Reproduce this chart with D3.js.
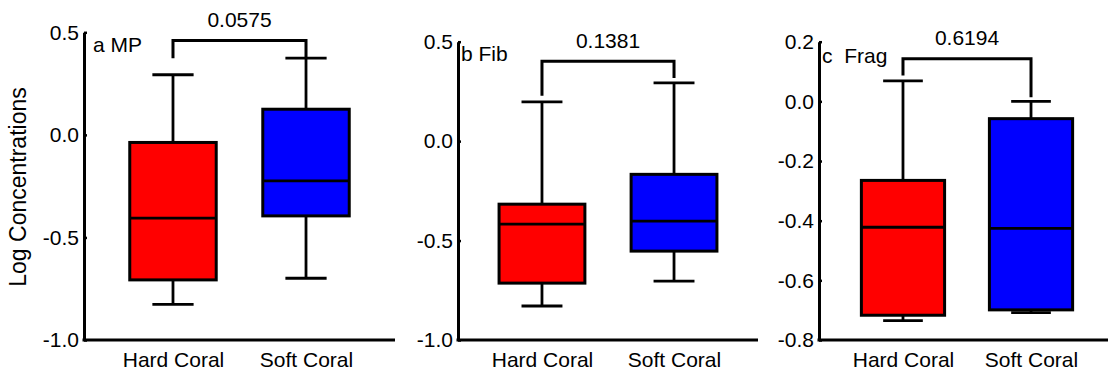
<!DOCTYPE html>
<html>
<head>
<meta charset="utf-8">
<script src="https://cdn.jsdelivr.net/npm/d3@7"></script>
<style>
  body { margin: 0; background: #fff; }
  svg { display: block; font-family: "Liberation Sans", Arial, sans-serif; }
</style>
</head>
<body>
<svg id="chart" width="1108" height="376"></svg>
<script>
/* categories and labels */
var categories = ["Hard Coral", "Soft Coral"];
var panelLabels = ["a MP", "b Fib", "c  Frag"];
var pValues = ["0.0575", "0.1381", "0.6194"];

/* five number summaries: [min, q1, median, q3, max] */
var mpHard = [-0.826, -0.707, -0.406, -0.037, 0.293];
var mpSoft = [-0.699, -0.395, -0.224, 0.125, 0.374];
var fibHard = [-0.829, -0.714, -0.417, -0.317, 0.197];
var fibSoft = [-0.704, -0.553, -0.402, -0.167, 0.293];
var fragHard = [-0.735, -0.717, -0.422, -0.265, 0.069];
var fragSoft = [-0.708, -0.699, -0.426, -0.058, 0.0];

/* significance brackets: [bar level, left leg end, right leg end] */
var mpBracket = [0.46, 0.374, 0.374];
var fibBracket = [0.402, 0.228, 0.317];
var fragBracket = [0.143, 0.087, 0.014];

/* y axis domains and ticks */
var mpDomain = [-1.0, 0.5], mpTicks = [-1.0, -0.5, 0.0, 0.5];
var fibDomain = [-1.0, 0.5], fibTicks = [-1.0, -0.5, 0.0, 0.5];
var fragDomain = [-0.8, 0.2], fragTicks = [-0.8, -0.6, -0.4, -0.2, 0.0, 0.2];

var colors = ["#ff0000", "#0000ff"];

var panels = [
  { label: panelLabels[0], p: pValues[0], boxes: [mpHard, mpSoft], bracket: mpBracket,
    domain: mpDomain, ticks: mpTicks, left: 84, right: 395, pad: 0.669, top: 32.3, labelY: 52, labelX: 93 },
  { label: panelLabels[1], p: pValues[1], boxes: [fibHard, fibSoft], bracket: fibBracket,
    domain: fibDomain, ticks: fibTicks, left: 458, right: 758, pad: 0.636, top: 41.7, labelY: 61, labelX: 461 },
  { label: panelLabels[2], p: pValues[2], boxes: [fragHard, fragSoft], bracket: fragBracket,
    domain: fragDomain, ticks: fragTicks, left: 819, right: 1115, pad: 0.656, top: 41.7, labelY: 63, labelX: 822 }
];

var svg = d3.select("#chart");
var bottom = 340;
var fontSize = "21px";

panels.forEach(function(pn) {
  var g = svg.append("g");

  var y = d3.scaleLinear().domain(pn.domain).range([bottom, pn.top]);
  var x = d3.scalePoint().domain(categories).range([pn.left, pn.right]).padding(pn.pad);
  var step = x.step();
  var boxW = 0.65 * step, capW = 0.31 * step;

  /* Y AXIS, TICKS POINT INWARD */
  var yAxis = g.append("g")
    .attr("transform", "translate(" + pn.left + ",0)")
    .call(d3.axisLeft(y).tickValues(pn.ticks)
      .tickFormat(function(d) { return d.toFixed(1); })
      .tickSizeInner(-3).tickSizeOuter(0).tickPadding(5));
  yAxis.select(".domain").attr("stroke-width", 3);
  yAxis.selectAll(".tick line").attr("stroke-width", 2.5);
  yAxis.selectAll(".tick text").attr("font-size", fontSize).attr("fill", "#000")
    .attr("font-family", "Liberation Sans, Arial, sans-serif");

  /* X AXIS, NO TICKS */
  var xAxis = g.append("g")
    .attr("transform", "translate(0," + bottom + ")")
    .call(d3.axisBottom(x).tickSize(0).tickPadding(12));
  xAxis.select(".domain").attr("stroke-width", 3)
    .attr("d", "M" + (pn.left - 1.5) + ",0H" + pn.right);
  xAxis.selectAll(".tick text").attr("font-size", fontSize).attr("fill", "#000")
    .attr("font-family", "Liberation Sans, Arial, sans-serif");

  /* BOXES */
  var box = g.selectAll(".box").data(pn.boxes).enter().append("g").attr("class", "box");
  box.each(function(d, i) {
    var b = d3.select(this), cx = x(categories[i]);
    // whiskers
    b.append("line").attr("x1", cx).attr("x2", cx).attr("y1", y(d[4])).attr("y2", y(d[3]))
      .attr("stroke", "#000").attr("stroke-width", 2.8);
    b.append("line").attr("x1", cx).attr("x2", cx).attr("y1", y(d[1])).attr("y2", y(d[0]))
      .attr("stroke", "#000").attr("stroke-width", 2.8);
    b.append("line").attr("x1", cx - capW / 2).attr("x2", cx + capW / 2)
      .attr("y1", y(d[4])).attr("y2", y(d[4])).attr("stroke", "#000").attr("stroke-width", 2.8);
    b.append("line").attr("x1", cx - capW / 2).attr("x2", cx + capW / 2)
      .attr("y1", y(d[0])).attr("y2", y(d[0])).attr("stroke", "#000").attr("stroke-width", 2.8);
    // box
    b.append("rect").attr("x", cx - boxW / 2).attr("width", boxW)
      .attr("y", y(d[3])).attr("height", y(d[1]) - y(d[3]))
      .attr("fill", colors[i]).attr("stroke", "#000").attr("stroke-width", 3);
    // median
    b.append("line").attr("x1", cx - boxW / 2).attr("x2", cx + boxW / 2)
      .attr("y1", y(d[2])).attr("y2", y(d[2])).attr("stroke", "#000").attr("stroke-width", 2.8);
  });

  /* SIGNIFICANCE BRACKET */
  var x1 = x(categories[0]), x2 = x(categories[1]);
  g.append("path")
    .attr("d", "M" + x1 + "," + y(pn.bracket[1]) + "V" + y(pn.bracket[0]) +
               "H" + x2 + "V" + y(pn.bracket[2]))
    .attr("fill", "none").attr("stroke", "#000").attr("stroke-width", 3);
  g.append("text")
    .attr("x", (x1 + x2) / 2).attr("y", y(pn.bracket[0]) - 13.5)
    .attr("text-anchor", "middle").attr("font-size", fontSize)
    .text(pn.p);

  /* PANEL LABEL */
  g.append("text").attr("x", pn.labelX).attr("y", pn.labelY)
    .attr("font-size", fontSize).attr("xml:space", "preserve").style("white-space", "pre")
    .text(pn.label);
});

/* Y AXIS TITLE */
svg.append("text")
  .attr("transform", "translate(26,187) rotate(-90)")
  .attr("text-anchor", "middle").attr("font-size", "23px")
  .text("Log Concentrations");
</script>
</body>
</html>
